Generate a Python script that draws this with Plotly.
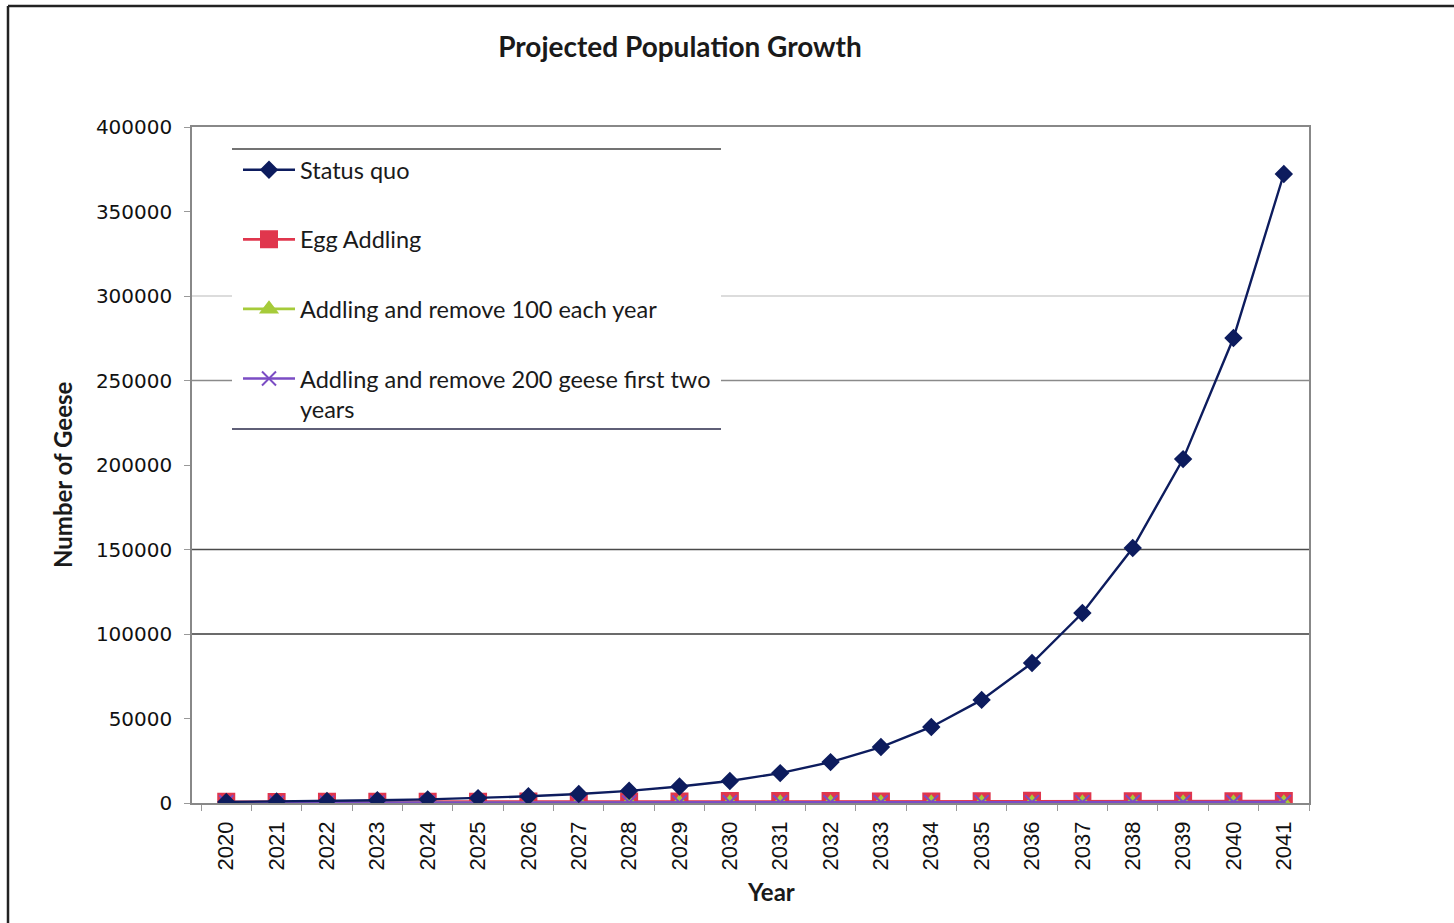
import plotly.graph_objects as go

# Projected goose population under four management scenarios
years = list(range(2020, 2042))

status_quo = [650, 870, 1180, 1600, 2150, 2900, 3950, 5350, 7200, 9800, 13000,
              17700, 24200, 33100, 45000, 61000, 82800, 112400, 150900, 203500,
              275100, 372200]
egg_addling = [700, 650, 700, 720, 760, 780, 820, 850, 880, 900, 1150,
               1200, 1150, 900, 880, 1000, 1300, 1100, 1050, 1400, 1100, 1150]
remove_100 = [300, 250, 300, 280, 220, 180, 150, 120, 100, 80, 60,
              50, 40, 30, 20, 10, 0, 0, 0, 0, 0, 0]
remove_200 = [420, 220, 240, 260, 280, 300, 320, 340, 360, 380, 400,
              420, 440, 460, 480, 500, 520, 540, 560, 580, 600, 620]

series_names = ["Status quo", "Egg Addling", "Addling and remove 100 each year",
                "Addling and remove 200 geese first two<br>years"]

y_ticks = [0, 50000, 100000, 150000, 200000, 250000, 300000, 350000, 400000]
grid_values = [100000, 150000, 250000, 300000]
grid_colors = ["#3a3a3a", "#4a4a4a", "#8a8a8a", "#d0d0d0"]

W, H = 1454, 923
L, R, T, B = 192, 145, 127, 120
PW, PH = W - L - R, H - T - B


def px_x(px):
    return (px - L) / PW


def px_y(py):
    return (H - B - py) / PH


fig = go.Figure()

styles = [
    dict(color="#0d1c5e", symbol="diamond", size=12, lw=2.4),
    dict(color="#e0364d", symbol="square", size=16, lw=2.6),
    dict(color="#a6cb3a", symbol="triangle-up", size=14, lw=2.6),
    dict(color="#7b4dc4", symbol="x-thin", size=14, lw=2.4),
]
data = [status_quo, egg_addling, remove_100, remove_200]

# draw later series first so the status-quo curve stays on top
order = [1, 2, 3, 0]
for i in order:
    s = styles[i]
    fig.add_trace(go.Scatter(
        x=years, y=data[i], name=series_names[i], mode="lines+markers",
        legendgroup=f"g{i}", legendrank=i + 1,
        line=dict(color=s["color"], width=s["lw"]),
        marker=dict(color=s["color"], symbol=s["symbol"], size=s["size"],
                    line=dict(color=s["color"], width=2)),
    ))

shapes = []
for v, c in zip(grid_values, grid_colors):
    shapes.append(dict(type="line", xref="paper", yref="y", x0=0, x1=1, y0=v, y1=v,
                       line=dict(color=c, width=1.3), layer="below"))
# legend panel
shapes.append(dict(type="rect", xref="paper", yref="paper",
                   x0=px_x(232), x1=px_x(721), y0=px_y(429), y1=px_y(149),
                   fillcolor="white", line=dict(width=0), layer="below"))
shapes.append(dict(type="line", xref="paper", yref="paper",
                   x0=px_x(232), x1=px_x(721), y0=px_y(149), y1=px_y(149),
                   line=dict(color="#444444", width=1.5), layer="below"))
shapes.append(dict(type="line", xref="paper", yref="paper",
                   x0=px_x(232), x1=px_x(721), y0=px_y(429), y1=px_y(429),
                   line=dict(color="#2a2a4a", width=1.5), layer="below"))
# outer chart frame (top and left edges)
shapes.append(dict(type="line", xref="paper", yref="paper",
                   x0=px_x(8), x1=px_x(W), y0=px_y(6), y1=px_y(6),
                   line=dict(color="#222222", width=2.5), layer="above"))
shapes.append(dict(type="line", xref="paper", yref="paper",
                   x0=px_x(8), x1=px_x(8), y0=px_y(H), y1=px_y(6),
                   line=dict(color="#222222", width=2.5), layer="above"))

title_font = dict(family="Lato", size=24, color="#1a1a1a")

fig.update_layout(
    width=W, height=H,
    margin=dict(l=L, r=R, t=T, b=B),
    paper_bgcolor="white", plot_bgcolor="white",
    title=dict(text="<b>Projected Population Growth</b>", x=680 / W,
               xanchor="center", y=1 - 47 / H, yanchor="middle",
               font=dict(family="Lato", size=28, color="#1a1a1a")),
    showlegend=True,
    legend=dict(x=px_x(238), y=px_y(148), xanchor="left", yanchor="top",
                bgcolor="rgba(0,0,0,0)", borderwidth=0,
                font=dict(family="Lato", size=23.5, color="#1a1a1a"),
                tracegroupgap=36, itemwidth=52, traceorder="grouped",
                valign="top"),
    shapes=shapes,
    annotations=[
        dict(text="<b>Year</b>", xref="paper", yref="paper",
             x=px_x(771), y=px_y(891), xanchor="center", yanchor="middle",
             showarrow=False, font=title_font),
        dict(text="<b>Number of Geese</b>", xref="paper", yref="paper",
             x=px_x(62), y=px_y(475), xanchor="center", yanchor="middle",
             textangle=-90, showarrow=False, font=title_font),
    ],
)

fig.update_xaxes(
    range=[2020 - 0.68, 2041 + 0.5],
    tickmode="array", tickvals=years, ticktext=[str(y) for y in years],
    tickangle=-90, ticks="", showgrid=False, zeroline=False,
    tickfont=dict(family="Liberation Sans", size=22, color="#111111"),
    ticklabelstandoff=8,
    showline=True, linecolor="#888888", linewidth=1.5, mirror=True,
    minor=dict(ticks="outside", ticklen=6, tickcolor="#999999", tick0=2019.5, dtick=1,
               showgrid=False),
)
fig.update_yaxes(
    range=[0, 400000], tickmode="array", tickvals=y_ticks,
    ticktext=[str(v) for v in y_ticks], showgrid=False, zeroline=False,
    ticks="outside", ticklen=6, tickcolor="#999999",
    tickfont=dict(family="DejaVu Sans", size=20, color="#111111"),
    ticklabelstandoff=8,
    showline=True, linecolor="#888888", linewidth=1.5, mirror=True,
)

fig.write_html("out.html")
